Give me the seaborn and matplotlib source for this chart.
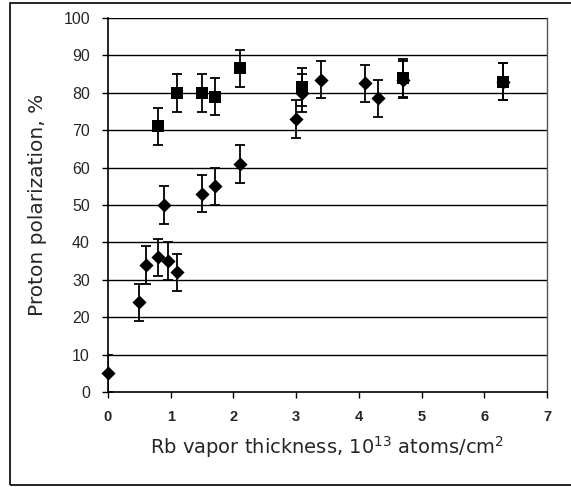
import matplotlib
matplotlib.use("Agg")
import matplotlib.pyplot as plt
import seaborn as sns
import pandas as pd
from matplotlib.patches import Rectangle

# Series 1 (diamonds)
diamond_x = [0.0, 0.5, 0.6, 0.8, 0.95, 1.1, 0.9, 1.5, 1.7, 2.1, 3.0, 3.1, 3.4, 4.1, 4.3, 4.7, 6.3]
diamond_y = [5, 24, 34, 36, 35, 32, 50, 53, 55, 61, 73, 80, 83.5, 82.5, 78.5, 83.5, 83]
diamond_err = [5] * len(diamond_x)

# Series 2 (squares)
square_x = [0.8, 1.1, 1.5, 1.7, 2.1, 3.1, 4.7, 6.3]
square_y = [71, 80, 80, 79, 86.5, 81.5, 84, 83]
square_err = [5] * len(square_x)

x_ticks = [0, 1, 2, 3, 4, 5, 6, 7]
y_ticks = [0, 10, 20, 30, 40, 50, 60, 70, 80, 90, 100]

sns.set_theme(style="white")
plt.rcParams['font.family'] = ['DejaVu Sans']

fig = plt.figure(figsize=(5.71, 4.87), dpi=100)
W, H = 571, 487
ax = fig.add_axes([108 / W, 1 - 392 / H, (547 - 108) / W, (392 - 18) / H])

df1 = pd.DataFrame({"x": diamond_x, "y": diamond_y, "e": diamond_err})
df2 = pd.DataFrame({"x": square_x, "y": square_y, "e": square_err})

for yt in y_ticks[1:]:
    ax.axhline(yt, color="black", lw=1.0, zorder=1)

ax.errorbar(df2["x"], df2["y"], yerr=df2["e"], fmt="none", ecolor="black",
            elinewidth=1.3, capsize=3.6, capthick=1.3, zorder=3)
ax.errorbar(df1["x"], df1["y"], yerr=df1["e"], fmt="none", ecolor="black",
            elinewidth=1.3, capsize=3.6, capthick=1.3, zorder=3)
sns.scatterplot(data=df2, x="x", y="y", marker="s", s=72, color="black",
                edgecolor="black", linewidth=0, ax=ax, zorder=4, clip_on=False)
sns.scatterplot(data=df1, x="x", y="y", marker="D", s=52, color="black",
                edgecolor="black", linewidth=0, ax=ax, zorder=5, clip_on=False)

ax.set_xlim(0, 7)
ax.set_ylim(0, 100)
ax.set_xticks(x_ticks)
ax.set_yticks(y_ticks)
ax.set_xticklabels([str(t) for t in x_ticks], fontfamily="Liberation Sans",
                   fontsize=10.5, fontweight="bold")
ax.set_yticklabels([str(t) for t in y_ticks], fontfamily="Liberation Sans",
                   fontsize=11.5)
ax.tick_params(axis="both", direction="out", length=4, width=1, color="black",
               bottom=True, left=True)
ax.tick_params(axis="y", pad=9)
ax.tick_params(axis="x", pad=9)

for s in ["left", "bottom"]:
    ax.spines[s].set_color("black")
    ax.spines[s].set_linewidth(1.2)
ax.spines["right"].set_color("#555555")
ax.spines["right"].set_linewidth(1.0)
ax.spines["top"].set_visible(False)

ax.set_xlabel(r"Rb vapor thickness, 10$^{13}$ atoms/cm$^{2}$", fontsize=14,
              labelpad=7)
ax.set_ylabel("Proton polarization, %", fontsize=14.5, labelpad=12)

# outer chart frame
fig.patches.append(Rectangle((10 / W, 1 - 485 / H), (580 - 10) / W, (485 - 3) / H,
                             transform=fig.transFigure, fill=False,
                             edgecolor="black", lw=1.2, clip_on=False))

fig.savefig("out.png", dpi=100, facecolor="white")
